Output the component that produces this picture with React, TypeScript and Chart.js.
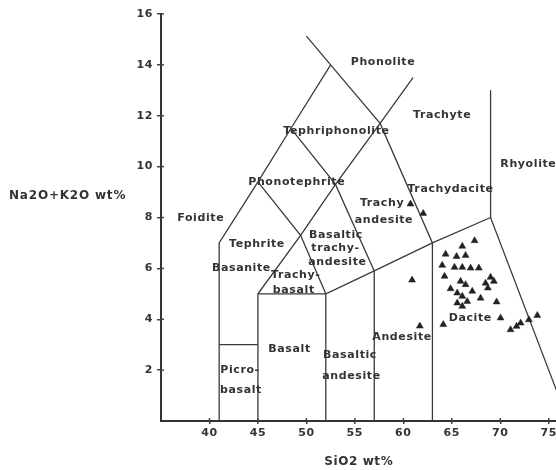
import React, { useEffect, useRef } from 'react';
import { Chart, registerables } from 'chart.js';

Chart.register(...registerables);

const xTicks = [40, 45, 50, 55, 60, 65, 70, 75];
const yTicks = [2, 4, 6, 8, 10, 12, 14, 16];

const sampleSiO2 = [60.74, 62.05, 60.9, 61.7, 67.35, 66.08, 64.36, 65.49, 66.42, 64.01, 65.28, 66.08, 66.94, 67.79, 64.25, 65.9, 66.42, 69.0, 69.34, 68.48, 68.72, 64.87, 65.56, 67.11, 67.97, 66.08, 66.59, 65.56, 66.08, 69.62, 64.12, 70.03, 71.06, 71.68, 72.1, 72.95, 73.82];
const sampleAlkali = [8.53, 8.16, 5.54, 3.73, 7.09, 6.87, 6.56, 6.47, 6.51, 6.12, 6.04, 6.04, 6.01, 6.01, 5.69, 5.49, 5.36, 5.65, 5.49, 5.42, 5.23, 5.2, 5.03, 5.1, 4.83, 4.9, 4.7, 4.64, 4.51, 4.68, 3.79, 4.05, 3.59, 3.72, 3.85, 3.98, 4.15];

// TAS field boundaries (SiO2, Na2O+K2O)
const foiditeEdge = [[41, 0], [41, 7], [45, 9.4], [48.4, 11.5], [52.5, 14]];
const phonoliteEdge = [[50, 15.13], [52.5, 14], [57.6, 11.7], [63, 7], [63, 0]];
const trachyteEdge = [[45, 0], [45, 5], [49.4, 7.3], [53, 9.3], [57.6, 11.7], [61, 13.5]];
const picroTop = [[41, 3], [45, 3]];
const basaltTop = [[45, 5], [52, 5]];
const subalkalineTop = [[52, 0], [52, 5], [57, 5.9], [63, 7], [69, 8], [77, 0]];
const andesiteLeft = [[57, 0], [57, 5.9]];
const rhyoliteEdge = [[69, 8], [69, 13]];
const tephriteEdge = [[45, 9.4], [49.4, 7.3], [52, 5]];
const phonotephriteEdge = [[48.4, 11.5], [53, 9.3], [57, 5.9]];

const boundaries = [foiditeEdge, phonoliteEdge, trachyteEdge, picroTop, basaltTop, subalkalineTop, andesiteLeft, rhyoliteEdge, tephriteEdge, phonotephriteEdge];

const fieldLabels = ['Phonolite', 'Trachyte', 'Tephriphonolite', 'Rhyolite', 'Phonotephrite', 'Trachydacite', 'Trachy', 'andesite', 'Foidite', 'Tephrite', 'Basaltic', 'trachy-', 'andesite', 'Basanite', 'Trachy-', 'basalt', 'Basalt', 'Basaltic', 'andesite', 'Andesite', 'Picro-', 'basalt', 'Dacite'];
const fieldX = [57.9, 64.0, 53.1, 72.9, 49.0, 64.87, 57.8, 58.0, 39.1, 44.9, 53.05, 53.0, 53.2, 43.3, 48.9, 48.7, 48.26, 54.5, 54.65, 59.87, 43.15, 43.25, 66.9];
const fieldY = [14.12, 12.03, 11.4, 10.1, 9.38, 9.1, 8.58, 7.9, 7.97, 6.95, 7.31, 6.79, 6.26, 6.0, 5.74, 5.15, 2.82, 2.6, 1.77, 3.3, 2.0, 1.22, 4.05];

const FONT = 'DejaVu Sans';
const INK = '#333';

const overlay = {
  id: 'overlay',
  beforeDraw(chart: any) {
    chart.ctx.letterSpacing = '0.6px';
  },
  afterDraw(chart: any) {
    const { ctx, chartArea } = chart;
    const x = chart.scales.x;
    const y = chart.scales.y;
    ctx.save();
    ctx.strokeStyle = '#444';
    ctx.lineWidth = 1.5;
    yTicks.forEach((v) => {
      const py = y.getPixelForValue(v);
      ctx.beginPath();
      ctx.moveTo(chartArea.left, py);
      ctx.lineTo(chartArea.left + 3, py);
      ctx.stroke();
    });
    xTicks.forEach((v) => {
      const px = x.getPixelForValue(v);
      ctx.beginPath();
      ctx.moveTo(px, chartArea.bottom);
      ctx.lineTo(px, chartArea.bottom - 3);
      ctx.stroke();
    });
    ctx.fillStyle = INK;
    ctx.textAlign = 'center';
    ctx.textBaseline = 'middle';
    ctx.font = `bold 11px "${FONT}"`;
    ctx.letterSpacing = '0.6px';
    fieldLabels.forEach((t, i) => {
      ctx.fillText(t, x.getPixelForValue(fieldX[i]), y.getPixelForValue(fieldY[i]));
    });
    ctx.font = `bold 12px "${FONT}"`;
    ctx.letterSpacing = '0.8px';
    ctx.textAlign = 'left';
    ctx.fillText('Na2O+K2O wt%', 9, y.getPixelForValue(8.84));
    ctx.restore();
  },
};

export default function App() {
  const ref = useRef<HTMLCanvasElement>(null);
  useEffect(() => {
    if (!ref.current) return;
    const datasets: any[] = [
      {
        label: 'samples',
        data: sampleSiO2.map((v, i) => ({ x: v, y: sampleAlkali[i] })),
        showLine: false,
        pointStyle: 'triangle',
        pointRadius: 4,
        backgroundColor: '#222',
        borderColor: '#222',
        borderWidth: 0.5,
      },
      ...boundaries.map((b, i) => ({
        label: 'b' + i,
        data: b.map((p) => ({ x: p[0], y: p[1] })),
        showLine: true,
        pointRadius: 0,
        borderColor: '#3a3a3a',
        borderWidth: 1.3,
        tension: 0,
        fill: false,
      })),
    ];
    const tickFont = { family: FONT, size: 11, weight: 'bold' as const };
    const chart = new Chart(ref.current, {
      type: 'scatter',
      data: { datasets },
      options: {
        animation: false,
        responsive: false,
        layout: { padding: { top: 14, right: 0, left: 0, bottom: 0 } },
        plugins: { legend: { display: false }, tooltip: { enabled: false } },
        scales: {
          x: {
            type: 'linear',
            min: 35,
            max: 75.8,
            afterBuildTicks: (s: any) => {
              s.ticks = xTicks.map((v) => ({ value: v }));
            },
            afterFit: (s: any) => {
              s.height = 49;
            },
            ticks: { font: tickFont, color: INK, padding: 3, maxRotation: 0, autoSkip: false },
            grid: { drawOnChartArea: false, tickLength: 3, color: '#444', lineWidth: 1.5 },
            border: { color: INK, width: 2 },
            title: {
              display: true,
              text: 'SiO2 wt%',
              font: { family: FONT, size: 12, weight: 'bold' },
              color: INK,
              padding: { top: 0, bottom: 1 },
            },
          },
          y: {
            type: 'linear',
            min: 0,
            max: 16,
            afterBuildTicks: (s: any) => {
              s.ticks = yTicks.map((v) => ({ value: v }));
            },
            afterFit: (s: any) => {
              s.width = 161;
            },
            ticks: { font: tickFont, color: INK, padding: 4, autoSkip: false },
            grid: { drawOnChartArea: false, tickLength: 4, color: '#444', lineWidth: 1.5 },
            border: { color: INK, width: 2 },
          },
        },
      },
      plugins: [overlay],
    });
    return () => chart.destroy();
  }, []);
  return (
    <div style={{ position: 'absolute', left: 0, top: 0, width: 556, height: 470, overflow: 'hidden', background: '#fff' }}>
      <canvas ref={ref} width={561} height={470} style={{ display: 'block' }} />
    </div>
  );
}
